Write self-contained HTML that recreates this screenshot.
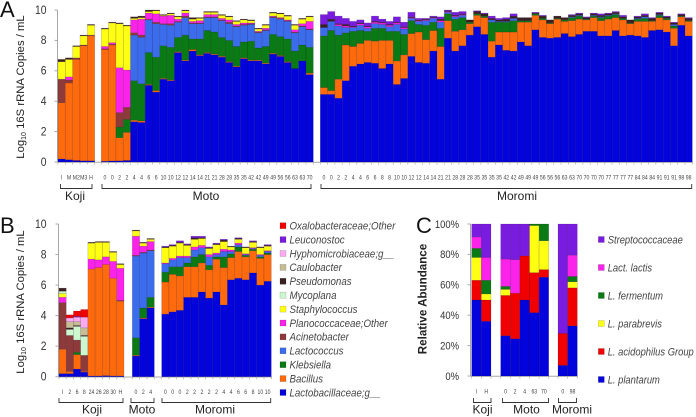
<!DOCTYPE html>
<html lang="en">
<head>
<meta charset="utf-8">
<title>16S rRNA copies by fermentation stage</title>
<style>
html,body{margin:0;padding:0;background:#fff;}
#figure{display:block;width:696px;height:417px;filter:blur(.3px);font-family:"Liberation Sans",Arial,sans-serif;}
</style>
</head>
<body>
<svg id="figure" xmlns="http://www.w3.org/2000/svg" width="696" height="417" viewBox="0 0 696 417">
  <text x="0" y="17" font-size="22" fill="#111">A</text>
  <text x="0" y="233" font-size="22" fill="#111">B</text>
  <text x="416" y="233" font-size="22" fill="#111">C</text>
  <text transform="translate(24,87) rotate(-90)" text-anchor="middle" font-size="11.3" fill="#222">Log<tspan font-size="7" dy="2">10</tspan><tspan dy="-2"> 16S rRNA Copies / mL</tspan></text>
  <text transform="translate(24,302) rotate(-90)" text-anchor="middle" font-size="11.3" fill="#222">Log<tspan font-size="7" dy="2">10</tspan><tspan dy="-2"> 16S rRNA Copies / mL</tspan></text>
  <text transform="translate(426.5,299) rotate(-90)" text-anchor="middle" font-size="11.6" font-weight="bold" fill="#222">Relative Abundance</text>
  <g id="panel-a"></g>
  <g id="panel-b"></g>
  <g id="panel-c"></g>
  <g id="legend-b"></g>
  <g id="legend-c"></g>
</svg>
<script>
// ---------- Panel A data ----------
const aGroups = ["Koji", "Moto", "Moromi"];
const aGroupSizes = [5, 29, 51];
const aYTicks = [0, 2, 4, 6, 8, 10];
const aLabels = ["I","M","M2","M3","H",
 "0","0","2","2","4","4","6","6","10","10","12","12","14","14","21","21","28","28","35","35","42","42","49","49","56","56","63","63","70",
 "0","0","2","2","4","4","6","6","8","8","10","10","12","12","14","14","21","21","28","28","28","35","35","35","35","42","42","49","49","49","56","56","56","63","63","70","70","70","70","77","77","77","77","84","84","84","91","91","91","98","98"];
const aBlue = [.2,.15,.1,.08,.08,
 .05,.07,.08,.1,2.65,2.6,5.05,4.6,5.45,5.35,7.2,6.65,7.3,7.0,7.15,7.05,6.9,6.55,6.25,6.8,6.65,6.65,6.45,7.1,6.95,6.55,6.15,6.65,5.75,
 4.45,4.45,4.2,5.35,6.3,6.45,6.55,6.5,6.15,6.45,5.1,5.5,6.95,6.55,6.5,7.3,5.45,8.15,7.3,7.65,8.35,8.9,8.4,6.9,7.7,7.35,7.3,7.9,7.65,8.7,8.2,8.15,8.2,8.45,8.25,8.4,8.6,8.6,8.3,8.3,8.65,8.3,8.35,8.3,8.2,8.65,8.7,8.55,7.65,9.0,8.3];
const aOrange = [3.7,5.05,6.65,7.57,8.22,
 7.35,7.63,1.52,1.85,.1,.1,.05,.1,.05,.05,.05,.05,.1,.05,.05,.05,.05,.05,.05,.05,.05,.05,.05,.05,.05,.05,0,0,.1,
 .45,.25,1.25,2.35,1.3,1.35,1.45,1.45,1.85,1.55,1.55,1.55,1.5,2.0,1.55,1.35,2.15,1.15,1.3,1.05,.75,.75,1.1,1.05,.85,1.2,1.25,1.3,1.55,.95,1.15,.95,1.2,.8,1.05,1.0,.75,.9,1.0,1.1,.85,1.05,.75,.95,1.05,.6,.8,.8,1.15,.55,.95];
const aGreen = [0,0,0,0,0,
 0,0,.7,.85,2.6,2.45,2.1,2.2,2.15,2.15,.95,1.65,.7,1.05,1.45,1.45,1.25,1.4,1.3,1.05,1.25,.8,1.1,1.25,1.25,1.5,1.15,1.05,1.7,
 3.4,3.95,2.9,.8,1.0,.85,.6,.85,.8,.6,1.95,1.35,.85,.5,.95,.55,1.2,.45,.8,.8,.1,.1,.1,1.25,.65,.65,.75,.1,.1,.1,.1,.05,.05,.1,.2,.2,.05,.1,.2,.2,.2,.1,.05,.15,.2,.05,.15,.1,.15,.05,.05];
const aLactococcus = [0,0,0,0,0,
 0,0,0,0,3.0,3.05,2.15,2.2,1.4,1.45,1.0,1.15,1.0,1.0,.85,.95,1.1,1.1,1.3,1.1,1.1,1.0,1.05,1.1,1.15,1.15,1.2,1.2,1.15,
 .55,.6,.6,.35,.25,.35,.2,.3,.25,.3,.45,.35,.15,.2,.3,.25,.4,.1,.15,.15,0,0,0,.15,.05,.05,.15,0,0,0,0,0,0,0,.05,.05,0,.05,.05,.05,.05,0,0,.05,.1,0,.05,0,.1,0,0];
const aAcinetobacter = [1.55,.2,.1,.05,.05,
 .05,.05,.95,.8,.15,.15,.05,.1,.05,.1,.05,.1,.05,.05,.05,.05,.05,.1,.05,.05,.05,.05,.05,.05,.05,.05,.05,.05,.05,
 0,0,0,0,0,0,0,0,0,0,0,0,0,0,0,0,0,0,0,0,0,0,0,0,0,0,0,0,0,0,0,0,0,0,0,0,0,0,0,0,0,0,0,0,0,0,0,0,0,0,0];
const aPlanococcaceae = [0,.2,0,0,0,
 .15,.1,2.95,2.45,.85,1.05,.4,.55,.5,.55,.15,.2,.1,.15,.15,.15,.1,.15,.1,.1,.05,.05,.1,.05,.05,.05,.15,.15,.5,
 0,0,.1,.1,.05,.1,.1,.1,.1,.1,.1,.1,.05,.05,.05,.05,.1,.05,.05,.05,0,0,0,0,0,0,0,0,0,0,0,0,0,0,0,0,0,0,0,0,0,0,0,0,0,0,0,0,0,0,0];
const aStaphylococcus = [1.15,1.15,.75,.6,.65,
 1.15,1.3,2.9,2.9,.1,.1,.1,.2,.05,.1,.15,.15,.15,.15,.15,.15,.2,.2,.2,.2,.15,.15,.2,.2,.25,.25,.3,.3,.3,
 0,0,0,0,0,0,0,0,0,0,0,0,0,0,0,0,0,0,0,0,0,0,0,0,0,0,0,0,0,0,0,0,0,0,0,0,0,0,0,0,0,0,0,0,0,0,0,0,0,0,0];
const aDarkTop = [.15,.1,.05,.05,.05,
 .05,.05,.05,.05,.1,.1,.1,.05,.05,.05,.05,.05,.1,.05,.05,.05,.05,.05,.05,.05,.05,.05,.05,.05,.05,.05,.05,.05,.05,
 .2,.15,.05,.1,.05,.05,.05,.05,.05,.05,.05,.05,.05,.05,.05,.05,.1,.05,.05,.05,.15,.15,.15,.1,.1,.15,.15,.2,.2,.05,.15,.2,.15,.15,.1,.1,.1,.1,.1,.1,.1,.1,.2,.1,.1,.15,.1,.1,.1,.1,.15];
const aPurple = [0,0,0,0,0,
 0,0,0,0,0,0,0,0,0,0,0,0,0,0,0,0,0,0,0,0,0,0,0,0,0,0,0,0,0,
 .65,.5,.5,.4,.3,.2,.2,.35,.2,.2,.35,.3,.3,.1,.05,.05,.15,.05,.2,.15,0,.05,.05,.15,.1,.1,.15,0,0,.05,.05,0,0,0,.05,.05,.05,.05,.1,.05,.05,.1,0,.05,.1,.05,.05,.05,.05,.05,.05];

// ---------- Panel B data ----------
const bGroups = ["Koji", "Moto", "Moromi"];
const bGroupSizes = [9, 3, 15];
const bYTicks = [0, 2, 4, 6, 8, 10];
const bLabels = ["I","2","6","8","24","26","28","30","H","0","2","4","0","0","0","2","2","2","2","2","4","4","6","6","8","10","10"];
const bBlue = [.2,.2,.5,.3,.05,.05,.07,.05,.05,1.35,3.8,4.5,4.1,4.25,4.35,5.2,5.2,5.55,5.15,5.55,4.7,6.35,6.45,6.35,6.8,6.0,6.25];
const bBacillus = [1.6,.15,.95,.05,7.0,7.1,7.28,6.4,4.9,.05,.05,.05,2.1,2.45,2.25,2.0,2.0,1.9,1.85,2.15,2.45,1.45,1.75,1.5,1.45,1.75,1.75];
const bKlebsiella = [0,0,.15,0,0,0,0,0,0,1.15,.65,.65,.65,.5,.6,.25,.65,.55,.3,.15,.7,.25,.3,.1,.1,.1,.1];
const bLactococcus = [0,0,0,0,0,0,0,0,0,5.35,3.6,3.05,.55,.45,.6,.35,.45,.45,.55,.15,.35,.15,.15,.05,.05,.1,.1];
const bAcinetobacter = [3.05,2.35,.8,1.05,0,0,0,0,.05,.05,.05,.05,0,0,0,0,0,0,0,0,0,0,0,0,0,0,0];
const bPlanococcaceae = [.35,0,0,0,.65,.5,.5,1.1,2.1,1.25,.4,.55,.05,.1,.1,.1,.2,.15,.15,.1,.15,.1,.1,.05,.05,.05,.05];
const bStaphylococcus = [.25,0,0,0,1.05,1.15,.95,.6,.25,.35,.2,.15,1.0,.8,.85,.7,.5,.45,.4,.55,.5,.2,.25,.4,.35,.45,.3];
const bMycoplana = [.15,.4,.9,1.25,0,0,0,0,0,0,0,0,0,0,0,0,0,0,0,0,0,0,0,0,0,0,0];
const bPseudomonas = [.2,.1,.05,.05,.05,.05,.05,.05,.05,.05,.05,.05,.05,.05,.05,.05,.1,.05,.05,.05,.1,.05,.05,.05,.05,.05,.05];
const bCaulobacter = [0,.4,.25,.5,0,0,0,0,0,0,0,0,0,0,0,0,0,0,0,0,0,0,0,0,0,0,0];
const bHyphomicrobiaceae = [0,.25,.3,.7,0,0,0,0,0,0,0,0,0,0,0,0,0,0,0,0,0,0,0,0,0,0,0];
const bLeuconostoc = [0,0,.05,0,0,0,0,0,0,0,0,0,.05,.05,.1,.05,.1,.1,.05,.05,.05,0,.05,0,.05,0,.05];
const bOxalobacteraceae = [0,.2,.35,.5,0,0,0,0,0,0,0,0,0,0,0,0,0,0,0,0,0,0,0,0,0,0,0];
const bLegendNames = ["Oxalobacteraceae;Other","Leuconostoc","Hyphomicrobiaceae;g__","Caulobacter","Pseudomonas","Mycoplana","Staphylococcus","Planococcaceae;Other","Acinetobacter","Lactococcus","Klebsiella","Bacillus","Lactobacillaceae;g__"];

// ---------- Panel C data ----------
const cGroups = ["Koji", "Moto", "Moromi"];
const cGroupSizes = [2, 5, 2];
const cYTicks = [0, 20, 40, 60, 80, 100];
const cLabels = ["I","H","0","2","4","63","70","0","98"];
const cPlantarum = [50,36,26.5,24.5,50,41.7,65,7,33];
const cAcidophilus = [13,14,26.5,30,29,26.3,5,21,25];
const cParabrevis = [15,4,4,0,0,31,19,0,4];
const cFermentum = [6,9,2,0,0,1,11,0,3.5];
const cLactis = [7.5,15,18,22,0,0,0,0,14];
const cStreptococcaceae = [8.5,22,23,23.5,21,0,0,72,20.5];
const cLegendNames = ["Streptococcaceae","Lact. lactis","L. fermentum","L. parabrevis","L. acidophilus Group","L. plantarum"];

// ---------- Drawing ----------
const NS = "http://www.w3.org/2000/svg";
const C = {blue:"#0303dc",orange:"#ff6a0c",green:"#0a7a14",lact:"#3b6cec",brown:"#8f3a3a",mag:"#fb22ea",yellow:"#ffff14",myco:"#cdf7cf",dark:"#3a2020",tan:"#c6bd94",pink:"#fbaaf0",purple:"#7a1ce0",red:"#f00000"};
const GRAY = "#a8a8a8";

function mk(parent, tag, attrs) {
  const el = document.createElementNS(NS, tag);
  for (const k in attrs) el.setAttribute(k, attrs[k]);
  parent.appendChild(el);
  return el;
}

function drawPanel(root, cfg) {
  const y = v => cfg.y0 - v * cfg.yScale;
  const axis = mk(root, "line", {x1:cfg.axisX, x2:cfg.axisX, y1:y(cfg.yTicks[cfg.yTicks.length-1]), y2:y(0), stroke:GRAY, "stroke-width":1});
  
  
  const base = mk(root, "line", {x1:cfg.axisX, x2:cfg.axisEnd, y1:y(0)+.3, y2:y(0)+.3, stroke:GRAY, "stroke-width":1});
  
  
  cfg.yTicks.forEach(t => {
    const tick = mk(root, "line", {x1:cfg.axisX-3, x2:cfg.axisX, y1:y(t), y2:y(t), stroke:GRAY, "stroke-width":1});
    
    
    const lab = mk(root, "text", {transform:`translate(${cfg.tickRight},${y(t)+3.8}) scale(${cfg.tickScale},1)`, "text-anchor":"end", "font-size":cfg.tickSize, fill:"#333"});
    
    
    lab.textContent = t + cfg.tickSuffix;
  });
  let idx = 0;
  cfg.groupSizes.forEach((n, g) => {
    const [x0, x1] = cfg.spans[g];
    const w = (x1 - x0) / n;
    for (let i = 0; i < n; i++, idx++) {
      const bx = x0 + i * w;
      let acc = 0;
      cfg.series.forEach(s => {
        const v = s.values[idx];
        if (!v) return;
        const seg = mk(root, "rect", {x:bx, y:y(acc+v), width:w, height:v*cfg.yScale, fill:s.color, stroke:"rgba(20,0,40,.28)", "stroke-width":.5});
        
        
        acc += v;
      });
      const tick = mk(root, "line", {x1:bx, x2:bx, y1:y(0), y2:y(0)+2.5, stroke:GRAY, "stroke-width":.7});
      
      
      const lab = mk(root, "text", {transform:`translate(${bx+w/2},${cfg.labelY}) scale(.78,1)`, "text-anchor":"middle", "font-size":cfg.labelSize, fill:"#444"});
      
      
      lab.textContent = cfg.labels[idx];
    }
    const endTick = mk(root, "line", {x1:x1, x2:x1, y1:y(0), y2:y(0)+2.5, stroke:GRAY, "stroke-width":.7});
    
    
    const [bl, br] = cfg.brackets[g];
    const br1 = mk(root, "path", {d:`M${bl} ${cfg.bracketY-4.5}V${cfg.bracketY}H${br}V${cfg.bracketY-4.5}`, fill:"none", stroke:"#333", "stroke-width":.9});
    
    
    const gl = mk(root, "text", {x:cfg.groupX[g], y:cfg.groupY, "text-anchor":"middle", "font-size":12, fill:"#222"});
    
    
    gl.textContent = cfg.groups[g];
  });
}

drawPanel(document.getElementById("panel-a"), {
  y0:162, yScale:15.2, axisX:57.5, axisEnd:692.5, tickRight:46.5, tickScale:.9, tickSize:11.5, tickSuffix:"",
  yTicks:aYTicks, groupSizes:aGroupSizes, groups:aGroups, labels:aLabels, labelY:179.3, labelSize:6.6,
  spans:[[58,94.7],[101.3,313.3],[320.3,692.3]], brackets:[[60.5,92],[102,311],[321,691.7]], bracketY:188.5,
  groupX:[75,206,517], groupY:200,
  series:[{values:aBlue,color:C.blue},{values:aOrange,color:C.orange},{values:aGreen,color:C.green},{values:aLactococcus,color:C.lact},{values:aAcinetobacter,color:C.brown},{values:aPlanococcaceae,color:C.mag},{values:aStaphylococcus,color:C.yellow},{values:aDarkTop,color:C.dark},{values:aPurple,color:C.purple}]
});

drawPanel(document.getElementById("panel-b"), {
  y0:376.7, yScale:15.27, axisX:58.5, axisEnd:272, tickRight:46.5, tickScale:.9, tickSize:11.5, tickSuffix:"",
  yTicks:bYTicks, groupSizes:bGroupSizes, groups:bGroups, labels:bLabels, labelY:394, labelSize:6.6,
  spans:[[59,124],[132.3,154.3],[161.7,271.3]], brackets:[[59,123],[131,154],[162,270.7]], bracketY:402.5,
  groupX:[92,142,215], groupY:413.5,
  series:[{values:bBlue,color:C.blue},{values:bBacillus,color:C.orange},{values:bKlebsiella,color:C.green},{values:bLactococcus,color:C.lact},{values:bAcinetobacter,color:C.brown},{values:bPlanococcaceae,color:C.mag},{values:bStaphylococcus,color:C.yellow},{values:bMycoplana,color:C.myco},{values:bPseudomonas,color:C.dark},{values:bCaulobacter,color:C.tan},{values:bHyphomicrobiaceae,color:C.pink},{values:bLeuconostoc,color:C.purple},{values:bOxalobacteraceae,color:C.red}]
});

drawPanel(document.getElementById("panel-c"), {
  y0:376, yScale:1.52, axisX:470.5, axisEnd:578, tickRight:459, tickScale:.86, tickSize:11, tickSuffix:"%",
  yTicks:cYTicks, groupSizes:cGroupSizes, groups:cGroups, labels:cLabels, labelY:393.5, labelSize:6.6,
  spans:[[471.7,491],[500.7,548.7],[558,577.3]], brackets:[[473.5,491],[502.5,548.5],[558.5,576.5]], bracketY:402.5,
  groupX:[482.5,526.5,572], groupY:413.5,
  series:[{values:cPlantarum,color:C.blue},{values:cAcidophilus,color:C.red},{values:cParabrevis,color:C.yellow},{values:cFermentum,color:C.green},{values:cLactis,color:C.mag},{values:cStreptococcaceae,color:C.purple}]
});

// Legends
const bLegendColors = [C.red,C.purple,C.pink,C.tan,C.dark,C.myco,C.yellow,C.mag,C.brown,C.lact,C.green,C.orange,C.blue];
const cLegendColors = [C.purple,C.mag,C.green,C.yellow,C.red,C.blue];
const legendB = document.getElementById("legend-b");
bLegendNames.forEach((name, i) => {
  const cy = 225.7 + i * 13.9;
  const sw = mk(legendB, "rect", {x:280, y:cy-3, width:6, height:6, fill:bLegendColors[i], stroke:"rgba(0,0,0,.25)", "stroke-width":.5});
  
  
  const tx = mk(legendB, "text", {transform:`translate(289.5,${cy+3.8}) scale(.9,1)`, "font-size":10.8, "font-style":"italic", fill:"#444"});
  
  
  tx.textContent = name;
});
const legendC = document.getElementById("legend-c");
cLegendNames.forEach((name, i) => {
  const cy = 239.5 + i * 28;
  const sw = mk(legendC, "rect", {x:598.3, y:cy-3, width:6, height:6, fill:cLegendColors[i], stroke:"rgba(0,0,0,.25)", "stroke-width":.5});
  
  
  const tx = mk(legendC, "text", {transform:`translate(607.7,${cy+3.8}) scale(.87,1)`, "font-size":10.8, "font-style":"italic", fill:"#444"});
  
  
  tx.textContent = name;
});
</script>
</body>
</html>
